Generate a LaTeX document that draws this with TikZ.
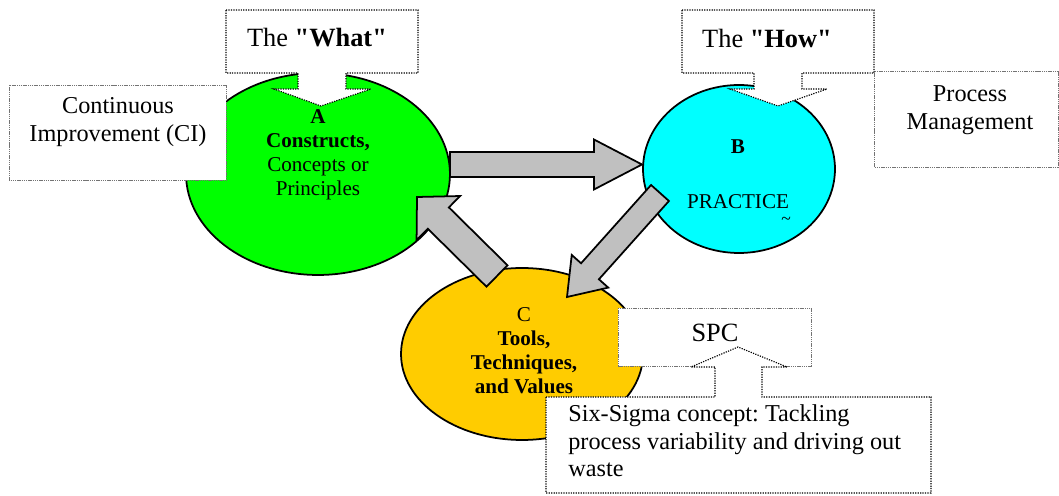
\documentclass[tikz,border=0pt]{standalone}
\usepackage{fontspec}
\setmainfont{Liberation Serif}[Ligatures=TeXOff]
\usetikzlibrary{shapes.geometric,calc}
\definecolor{agreen}{HTML}{00FF00}
\definecolor{bcyan}{HTML}{00FFFF}
\definecolor{cyellow}{HTML}{FFCC00}
\definecolor{arrowgray}{HTML}{C0C0C0}
\frenchspacing
% block arrow: start, end, shaft half width, head half width, head length
\newcommand\blockarrow[5]{%
  \filldraw[blockarr]
    ($(#1)!#3!90:(#2)$) --
    ($(#2)!#5!(#1)!#3!90:(#2)$) --
    ($(#2)!#5!(#1)!#4!90:(#2)$) --
    (#2) --
    ($(#2)!#5!(#1)!#4!-90:(#2)$) --
    ($(#2)!#5!(#1)!#3!-90:(#2)$) --
    ($(#1)!#3!-90:(#2)$) -- cycle;}
\begin{document}
\begin{tikzpicture}[x=0.02cm,y=-0.02cm,
  blob/.style={ellipse, draw=black, line width=1pt, inner sep=0pt},
  blockarr/.style={draw=black, fill=arrowgray, line width=1pt, line join=miter},
  calloutline/.style={draw=black, fill=white, line width=0.65pt, dash pattern=on 0.7pt off 0.7pt},
  graybox/.style={draw=black!55, fill=white, line width=0.45pt, dash pattern=on 0.8pt off 0.45pt},
  lbl/.style={font=\fontsize{13.8}{15.6}\selectfont, align=center, inner sep=0pt},
  biglbl/.style={font=\fontsize{15}{17}\selectfont, inner sep=0pt},
  inlbl/.style={font=\fontsize{12}{13.7}\selectfont, align=center, inner sep=0pt}]
\useasboundingbox (0,0) rectangle (1059,496);

% ellipses
\node[blob, fill=agreen, minimum width=5.28cm, minimum height=4.04cm] (A) at (318,174) {};
\node[blob, fill=bcyan, minimum width=3.84cm, minimum height=3.36cm] (B) at (739,169) {};
\node[blob, fill=cyellow, minimum width=4.84cm, minimum height=3.44cm] (C) at (522,354) {};

% arrow end points
\coordinate (abS) at (450,164.5);
\coordinate (abE) at (642,164.5);
\coordinate (bcS) at (660,193);
\coordinate (bcE) at (567,297);
\coordinate (caS) at (497,276);
\coordinate (caE) at (417,197);

\blockarrow{abS}{abE}{0.25cm}{0.5cm}{0.96cm}
\blockarrow{bcS}{bcE}{0.24cm}{0.49cm}{0.69cm}
\blockarrow{caS}{caE}{0.3cm}{0.62cm}{0.6cm}

% ellipse texts
\node[inlbl] (Atext) at (318,155) {\textbf{A}\\\textbf{Constructs,}\\Concepts or\\Principles};
\node[inlbl] (Blbl) at (738,147) {\textbf{B}};
\node[inlbl] (Btext) at (738,202) {PRACTICE};
\node[inner sep=0pt, font=\fontsize{10}{10}\selectfont] (tilde) at (786,221) {\string~};
\node[inlbl] (Ctext) at (524,351) {C\\\textbf{Tools,}\\\textbf{Techniques,}\\\textbf{and Values}};

% side boxes
\draw[graybox] (9,85) rectangle (226,180);
\node[lbl] (CI) at (118,122) {Continuous\\Improvement (CI)};
\draw[graybox] (874,71) rectangle (1058,167);
\node[lbl] (PM) at (970,110) {Process\\Management};

% callouts
\draw[calloutline] (226,10) -- (418,10) -- (418,73) -- (346,73) -- (346,89) -- (371,89)
  -- (321,106) -- (274,89) -- (298,89) -- (298,73) -- (226,73) -- cycle;
\node[biglbl] (What) at (317,38) {The \textbf{"What"}};
\draw[calloutline] (682,10) -- (874,10) -- (874,73) -- (802,73) -- (802,89) -- (827,89)
  -- (778,106) -- (730,89) -- (754,89) -- (754,73) -- (682,73) -- cycle;
\node[biglbl] (How) at (767,38) {The \textbf{"How"}};

\draw[graybox] (618,308) rectangle (811,366);
\node[biglbl] (SPC) at (715,333) {SPC};
\draw[calloutline] (546,397) -- (715,397) -- (715,367) -- (691,367) -- (738,347)
  -- (787,367) -- (762,367) -- (762,397) -- (931,397) -- (931,493) -- (546,493) -- cycle;
\node[lbl, align=left, anchor=west] (Six) at (568,441) {Six-Sigma concept: Tackling\\process variability and driving out\\waste};
\end{tikzpicture}
\end{document}
